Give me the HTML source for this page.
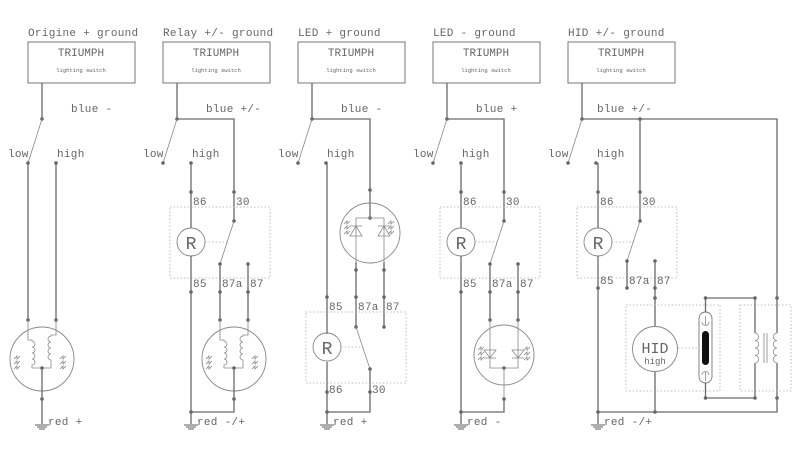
<!DOCTYPE html>
<html><head><meta charset="utf-8"><style>
html,body{margin:0;padding:0;background:#fff;}
svg{display:block}
text{font-family:"Liberation Mono",monospace;fill:#666;}
.t{font-size:11px;letter-spacing:0.3px}
.w{stroke:#6a6a6a;stroke-width:1.3;fill:none}
.th{stroke:#888;stroke-width:0.8;fill:none}
.d{stroke:#aaa;stroke-width:0.8;fill:none;stroke-dasharray:1.5 2}
.dot{fill:#666}
</style></head><body>
<svg width="800" height="461" viewBox="0 0 800 461" xmlns="http://www.w3.org/2000/svg">
<defs>
<g id="gnd"><line x1="-7" y1="0" x2="7" y2="0" stroke="#777" stroke-width="1.2"/><line x1="-5" y1="2" x2="5" y2="2" stroke="#777" stroke-width="1.2"/><line x1="-3" y1="4" x2="3" y2="4" stroke="#777" stroke-width="1.2"/></g>
<g id="hdr">
<rect x="0" y="42" width="107" height="41" fill="none" stroke="#777" stroke-width="1"/>
<text x="53" y="56" text-anchor="middle" style="font-size:11px">TRIUMPH</text>
<text x="53" y="72" text-anchor="middle" style="font-size:5.5px">lighting switch</text>
<line class="w" x1="14" y1="83" x2="14" y2="119"/>
<circle class="dot" cx="14" cy="119" r="1.8"/>
<line class="th" x1="14" y1="119" x2="0" y2="163"/>
<circle class="dot" cx="0" cy="163" r="1.8"/>
<circle class="dot" cx="28" cy="163" r="1.8"/>
<text class="t" x="-20" y="157">low</text>
<text class="t" x="29" y="157">high</text>
</g>
<g id="rays"><path class="th" d="M0 0 l3 -3 l0 3 l3 -3 M0 5 l3 -3 l0 3 l3 -3 M0 10 l3 -3 l0 3 l3 -3"/></g>
<g id="lamp">
<circle cx="0" cy="0" r="32" fill="none" stroke="#888" stroke-width="0.9"/>
<path class="th" stroke="#777" d="M-14 -39 V-19 H-10 V-18 a3 3 0 0 1 0 6 a3 3 0 0 1 0 6 a3 3 0 0 1 0 6 a3 3 0 0 1 0 6 V9 H9 V1 a3 3 0 0 1 0 -6 a3 3 0 0 1 0 -6 a3 3 0 0 1 0 -6 a3 3 0 0 1 0 -6 V-24 H14 V-39"/>
<line class="w" x1="0" y1="9" x2="0" y2="40"/>
<circle class="dot" cx="0" cy="9" r="1.8"/>
<use href="#rays" x="-28" y="0"/><use href="#rays" x="18" y="0"/>
</g>
<g id="relay">
<rect class="d" x="-21" y="0" width="100" height="71"/>
<circle cx="0" cy="35" r="14" fill="none" stroke="#888" stroke-width="0.9"/>
<text x="0" y="42" text-anchor="middle" style="font-size:18px;fill:#666">R</text>
<line class="d" x1="14" y1="35" x2="37" y2="35"/>
</g>
</defs>

<!-- Panel 1 -->
<g transform="translate(28,0)">
<text class="t" x="0" y="36">Origine + ground</text>
<use href="#hdr"/>
<text class="t" x="43" y="112">blue -</text>
<line class="w" x1="0" y1="163" x2="0" y2="320"/>
<line class="w" x1="28" y1="163" x2="28" y2="320"/>
<circle class="dot" cx="0" cy="320" r="1.8"/><circle class="dot" cx="28" cy="320" r="1.8"/>
<use href="#lamp" x="14" y="359"/>
<circle class="dot" cx="14" cy="399" r="1.8"/>
<line class="w" x1="14" y1="399" x2="14" y2="424"/>
<use href="#gnd" x="14" y="425"/>
<text class="t" x="20" y="425">red +</text>
</g>

<!-- Panel 2 -->
<g transform="translate(163,0)">
<text class="t" x="0" y="36">Relay +/- ground</text>
<use href="#hdr"/>
<text class="t" x="43" y="112">blue +/-</text>
<path class="w" d="M14 119 H71 V221"/>
<line class="w" x1="28" y1="163" x2="28" y2="228"/>
<circle class="dot" cx="28" cy="192" r="1.8"/><circle class="dot" cx="71" cy="192" r="1.8"/>
<text class="t" x="30" y="205">86</text><text class="t" x="73" y="205">30</text>
<use href="#relay" x="28" y="207"/>
<circle class="dot" cx="71" cy="221" r="1.8"/>
<line class="th" x1="71" y1="221" x2="57" y2="264"/>
<circle class="dot" cx="57" cy="264" r="1.8"/><circle class="dot" cx="85" cy="264" r="1.8"/>
<text class="t" x="30" y="287">85</text><text class="t" x="59" y="287">87a</text><text class="t" x="87" y="287">87</text>
<line class="w" x1="57" y1="264" x2="57" y2="320"/><line class="w" x1="85" y1="264" x2="85" y2="320"/>
<circle class="dot" cx="57" cy="292" r="1.8"/><circle class="dot" cx="85" cy="292" r="1.8"/>
<circle class="dot" cx="57" cy="320" r="1.8"/><circle class="dot" cx="85" cy="320" r="1.8"/>
<line class="w" x1="28" y1="256" x2="28" y2="424"/>
<circle class="dot" cx="28" cy="292" r="1.8"/>
<use href="#lamp" x="71" y="359"/>
<circle class="dot" cx="71" cy="399" r="1.8"/>
<path class="w" d="M71 399 V412 H28"/>
<circle class="dot" cx="28" cy="412" r="1.8"/>
<use href="#gnd" x="28" y="425"/>
<text class="t" x="34" y="425">red -/+</text>
</g>

<!-- Panel 3 -->
<g transform="translate(298,0)">
<text class="t" x="0" y="36">LED + ground</text>
<use href="#hdr"/>
<text class="t" x="43" y="112">blue -</text>
<path class="w" d="M14 119 H72 V218"/>
<circle class="dot" cx="72" cy="190" r="1.8"/><circle class="dot" cx="72" cy="218" r="1.8"/>
<circle cx="72" cy="233" r="30" fill="none" stroke="#888" stroke-width="0.9"/>
<path class="th" stroke="#777" d="M58 262 V218 H86 V262 M52 226 H64 M80 226 H92 M52 236 L58 226 L64 236 Z M80 236 L86 226 L92 236 Z"/>
<use href="#rays" x="46" y="224"/><use href="#rays" x="90" y="224"/>
<line class="w" x1="58" y1="262" x2="58" y2="327"/><line class="w" x1="86" y1="262" x2="86" y2="327"/>
<circle class="dot" cx="58" cy="270" r="1.8"/><circle class="dot" cx="86" cy="270" r="1.8"/>
<circle class="dot" cx="58" cy="297" r="1.8"/><circle class="dot" cx="86" cy="297" r="1.8"/>
<circle class="dot" cx="58" cy="327" r="1.8"/><circle class="dot" cx="86" cy="327" r="1.8"/>
<line class="w" x1="29" y1="163" x2="29" y2="334"/>
<circle class="dot" cx="29" cy="297" r="1.8"/>
<text class="t" x="31" y="310">85</text><text class="t" x="60" y="310">87a</text><text class="t" x="88" y="310">87</text>
<use href="#relay" x="29" y="312"/>
<line class="th" x1="58" y1="327" x2="72" y2="369"/>
<circle class="dot" cx="72" cy="369" r="1.8"/>
<line class="w" x1="29" y1="362" x2="29" y2="424"/>
<path class="w" d="M72 369 V412 H29"/>
<circle class="dot" cx="29" cy="392" r="1.8"/><circle class="dot" cx="72" cy="392" r="1.8"/>
<text class="t" x="31" y="393">86</text><text class="t" x="74" y="393">30</text>
<circle class="dot" cx="29" cy="412" r="1.8"/>
<use href="#gnd" x="29" y="425"/>
<text class="t" x="35" y="425">red +</text>
</g>

<!-- Panel 4 -->
<g transform="translate(433,0)">
<text class="t" x="0" y="36">LED - ground</text>
<use href="#hdr"/>
<text class="t" x="43" y="112">blue +</text>
<path class="w" d="M14 119 H71 V221"/>
<line class="w" x1="28" y1="163" x2="28" y2="228"/>
<circle class="dot" cx="28" cy="192" r="1.8"/><circle class="dot" cx="71" cy="192" r="1.8"/>
<text class="t" x="30" y="205">86</text><text class="t" x="73" y="205">30</text>
<use href="#relay" x="28" y="207"/>
<circle class="dot" cx="71" cy="221" r="1.8"/>
<line class="th" x1="71" y1="221" x2="57" y2="264"/>
<circle class="dot" cx="57" cy="264" r="1.8"/><circle class="dot" cx="85" cy="264" r="1.8"/>
<text class="t" x="30" y="287">85</text><text class="t" x="59" y="287">87a</text><text class="t" x="87" y="287">87</text>
<line class="w" x1="57" y1="264" x2="57" y2="320"/><line class="w" x1="85" y1="264" x2="85" y2="320"/>
<circle class="dot" cx="57" cy="292" r="1.8"/><circle class="dot" cx="85" cy="292" r="1.8"/>
<circle class="dot" cx="57" cy="320" r="1.8"/><circle class="dot" cx="85" cy="320" r="1.8"/>
<line class="w" x1="28" y1="256" x2="28" y2="424"/>
<circle class="dot" cx="28" cy="292" r="1.8"/>
<circle cx="71" cy="355" r="30" fill="none" stroke="#888" stroke-width="0.9"/>
<path class="th" stroke="#777" d="M57 320 V368 H85 V320 M51 358 H63 M79 358 H91 M51 350 L57 358 L63 350 Z M79 350 L85 358 L91 350 Z M71 368 V399"/>
<use href="#rays" x="45" y="350"/><use href="#rays" x="91" y="350"/>
<circle class="dot" cx="71" cy="368" r="1.8"/><circle class="dot" cx="71" cy="399" r="1.8"/>
<path class="w" d="M71 399 V412 H28"/>
<circle class="dot" cx="28" cy="412" r="1.8"/>
<use href="#gnd" x="28" y="425"/>
<text class="t" x="34" y="425">red -</text>
</g>

<!-- Panel 5 -->
<g transform="translate(568,0)">
<text class="t" x="0" y="36">HID +/- ground</text>
<use href="#hdr"/>
<text class="t" x="29" y="112">blue +/-</text>
<path class="w" d="M14 119 H209 V412 H30"/>
<line class="w" x1="72" y1="119" x2="72" y2="221"/>
<circle class="dot" cx="72" cy="119" r="1.8"/>
<line class="w" x1="30" y1="163" x2="30" y2="228"/>
<circle class="dot" cx="30" cy="192" r="1.8"/><circle class="dot" cx="72" cy="192" r="1.8"/>
<text class="t" x="32" y="205">86</text><text class="t" x="74" y="205">30</text>
<use href="#relay" x="30" y="207"/>
<circle class="dot" cx="72" cy="221" r="1.8"/>
<line class="th" x1="72" y1="221" x2="59" y2="261"/>
<circle class="dot" cx="59" cy="261" r="1.8"/><circle class="dot" cx="87" cy="261" r="1.8"/>
<line class="w" x1="59" y1="261" x2="59" y2="288"/>
<line class="w" x1="87" y1="261" x2="87" y2="398"/>
<circle class="dot" cx="59" cy="288" r="1.8"/><circle class="dot" cx="87" cy="288" r="1.8"/><circle class="dot" cx="87" cy="298" r="1.8"/>
<text class="t" x="32" y="284">85</text><text class="t" x="61" y="284">87a</text><text class="t" x="89" y="284">87</text>
<line class="w" x1="30" y1="256" x2="30" y2="424"/>
<circle class="dot" cx="30" cy="288" r="1.8"/>
<rect class="d" x="58" y="305" width="94" height="86"/>
<rect class="d" x="172" y="305" width="51" height="86"/>
<circle cx="87" cy="349" r="22.5" fill="#fff" stroke="#888" stroke-width="0.9"/>
<text x="87" y="353" text-anchor="middle" style="font-size:15px;fill:#666">HID</text>
<text x="87" y="364" text-anchor="middle" style="font-size:9px;fill:#666">high</text>
<line class="d" x1="110" y1="348" x2="131" y2="348"/>
<rect x="131" y="312" width="13" height="71" rx="6.5" fill="none" stroke="#777" stroke-width="0.9"/>
<rect x="134" y="331" width="7" height="34" rx="3.5" fill="#111"/>
<path class="th" d="M134 322 a3.5 3.5 0 0 0 7 0 M137.5 316 V325 M134 375 a3.5 3.5 0 0 1 7 0 M137.5 372 V381"/>
<path class="w" d="M137.5 312 V298 H187 V398 H137.5 V383"/>
<circle class="dot" cx="137.5" cy="298" r="1.8"/><circle class="dot" cx="187" cy="298" r="1.8"/>
<circle class="dot" cx="137.5" cy="398" r="1.8"/><circle class="dot" cx="187" cy="398" r="1.8"/>
<circle class="dot" cx="209" cy="298" r="1.8"/><circle class="dot" cx="209" cy="398" r="1.8"/>
<rect x="184" y="333" width="28" height="30" fill="#fff"/>
<path class="th" stroke="#777" d="M187 333 a3.5 3.5 0 0 1 0 7.5 a3.5 3.5 0 0 1 0 7.5 a3.5 3.5 0 0 1 0 7.5 a3.5 3.5 0 0 1 0 7.5 M209 333 a3.5 3.5 0 0 0 0 7.5 a3.5 3.5 0 0 0 0 7.5 a3.5 3.5 0 0 0 0 7.5 a3.5 3.5 0 0 0 0 7.5 M196 333 V363 M199 333 V363"/>
<line class="w" x1="87" y1="398" x2="87" y2="412"/>
<circle class="dot" cx="87" cy="412" r="1.8"/><circle class="dot" cx="30" cy="412" r="1.8"/>
<use href="#gnd" x="30" y="425"/>
<text class="t" x="36" y="425">red -/+</text>
</g>
</svg>
</body></html>
